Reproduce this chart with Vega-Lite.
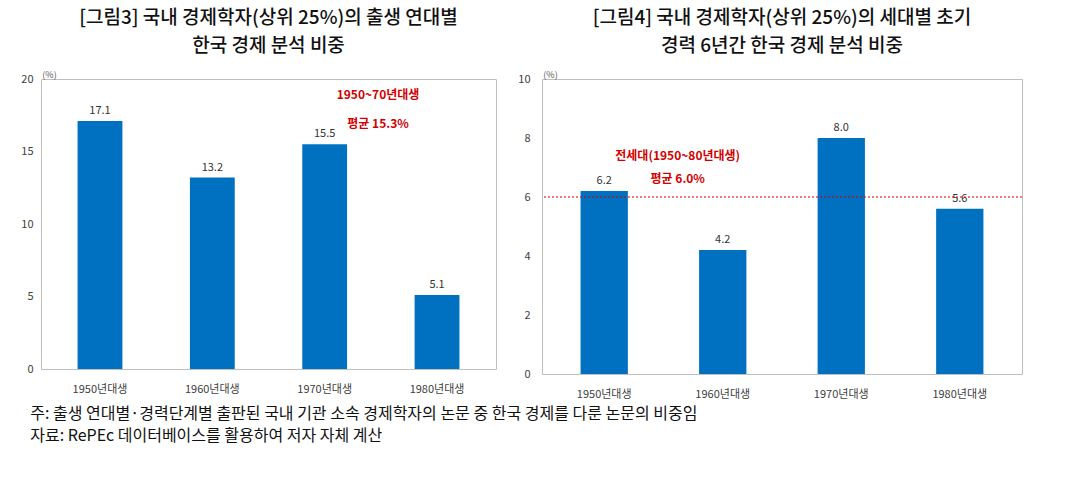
{
  "$schema": "https://vega.github.io/schema/vega-lite/v6.json",
  "padding": {"left": 20, "top": 8, "right": 10, "bottom": 5},
  "background": "white",
  "config": {
    "font": "Noto Sans CJK KR",
    "view": {"stroke": "#bfbfbf", "strokeWidth": 1},
    "axis": {"grid": false, "domain": false, "ticks": false, "labelColor": "#404040", "labelFontSize": 11, "labelFont": "Noto Sans CJK KR"},
    "title": {"fontSize": 19, "fontWeight": 500, "color": "#111", "font": "Noto Sans CJK KR"}
  },
  "datasets": {
    "left": [
      {"g": "1950년대생", "v": 17.1},
      {"g": "1960년대생", "v": 13.2},
      {"g": "1970년대생", "v": 15.5},
      {"g": "1980년대생", "v": 5.1}
    ],
    "right": [
      {"g": "1950년대생", "v": 6.2},
      {"g": "1960년대생", "v": 4.2},
      {"g": "1970년대생", "v": 8.0},
      {"g": "1980년대생", "v": 5.6}
    ]
  },
  "title": {
    "text": ["  주: 출생 연대별·경력단계별 출판된 국내 기관 소속 경제학자의 논문 중 한국 경제를 다룬 논문의 비중임", "자료: RePEc 데이터베이스를 활용하여 저자 자체 계산"],
    "orient": "bottom", "anchor": "start", "fontSize": 16, "fontWeight": "normal", "offset": 6, "dx": 10, "lineHeight": 22
  },
  "hconcat": [
    {
      "width": 455, "height": 290,
      "title": {"text": ["[그림3] 국내 경제학자(상위 25%)의 출생 연대별", "한국 경제 분석 비중"], "lineHeight": 28, "offset": 14},
      "data": {"name": "left"},
      "encoding": {
        "x": {"field": "g", "type": "nominal", "sort": null, "title": null, "scale": {"paddingInner": 0.05, "paddingOuter": 0.05}, "axis": {"labelAngle": 0, "labelPadding": 14}},
        "y": {"field": "v", "type": "quantitative", "title": "(%)", "scale": {"domain": [0, 20], "nice": false}, "axis": {"values": [0, 5, 10, 15, 20], "titleAngle": 0, "titleX": 8, "titleY": 0, "titleFontSize": 9, "titleFontWeight": "normal", "titleColor": "#555", "labelPadding": 8}}
      },
      "layer": [
        {"mark": {"type": "bar", "color": "#0070C0", "width": {"band": 0.42}}},
        {"mark": {"type": "text", "dy": -10, "fontSize": 11, "color": "#333"}, "encoding": {"text": {"field": "v", "format": ".1f"}}},
        {"data": {"values": [{"a": 1}]}, "mark": {"type": "rect", "fill": null, "stroke": "#d00000", "strokeDash": [6, 4], "strokeWidth": 1.3, "cornerRadius": 28, "clip": false},
         "encoding": {"x": {"datum": "1950년대생", "bandPosition": 0}, "x2": {"datum": "1970년대생", "bandPosition": 1}, "y": {"datum": 19.2}, "y2": {"datum": -2.3}}},
        {"data": {"values": [{"t": "1950~70년대생", "y": 18.9}, {"t": "평균 15.3%", "y": 16.9}]}, "mark": {"type": "text", "color": "#d00000", "fontSize": 12, "fontWeight": "bold"},
         "encoding": {"x": {"datum": "1970년대생", "bandPosition": 1}, "y": {"field": "y", "type": "quantitative"}, "text": {"field": "t"}}}
      ]
    },
    {
      "width": 480, "height": 295,
      "title": {"text": ["[그림4] 국내 경제학자(상위 25%)의 세대별 초기", "경력 6년간 한국 경제 분석 비중"], "lineHeight": 28, "offset": 14},
      "layer": [
        {"data": {"name": "right"}, "mark": {"type": "bar", "color": "#0070C0", "width": {"band": 0.42}},
         "encoding": {
           "x": {"field": "g", "type": "nominal", "sort": null, "title": null, "scale": {"paddingInner": 0.05, "paddingOuter": 0.05}, "axis": {"labelAngle": 0, "labelPadding": 14}},
           "y": {"field": "v", "type": "quantitative", "title": "(%)", "scale": {"domain": [0, 10], "nice": false}, "axis": {"values": [0, 2, 4, 6, 8, 10], "titleAngle": 0, "titleX": 8, "titleY": 0, "titleFontSize": 9, "titleFontWeight": "normal", "titleColor": "#555", "labelPadding": 12}}
         }},
        {"data": {"name": "right"}, "mark": {"type": "text", "dy": -10, "fontSize": 11, "color": "#333"},
         "encoding": {"x": {"field": "g", "type": "nominal", "sort": null}, "y": {"field": "v", "type": "quantitative"}, "text": {"field": "v", "format": ".1f"}}},
        {"data": {"values": [{"m": 6.0}]}, "mark": {"type": "rule", "color": "#d00000", "strokeDash": [2, 2], "strokeWidth": 1}, "encoding": {"y": {"field": "m", "type": "quantitative"}}},
        {"data": {"values": [{"t": "전세대(1950~80년대생)", "y": 7.4}, {"t": "평균 6.0%", "y": 6.6}]}, "mark": {"type": "text", "color": "#d00000", "fontSize": 12, "fontWeight": "bold"},
         "encoding": {"x": {"datum": "1960년대생", "bandPosition": 0.1}, "y": {"field": "y", "type": "quantitative"}, "text": {"field": "t"}}}
      ]
    }
  ]
}
